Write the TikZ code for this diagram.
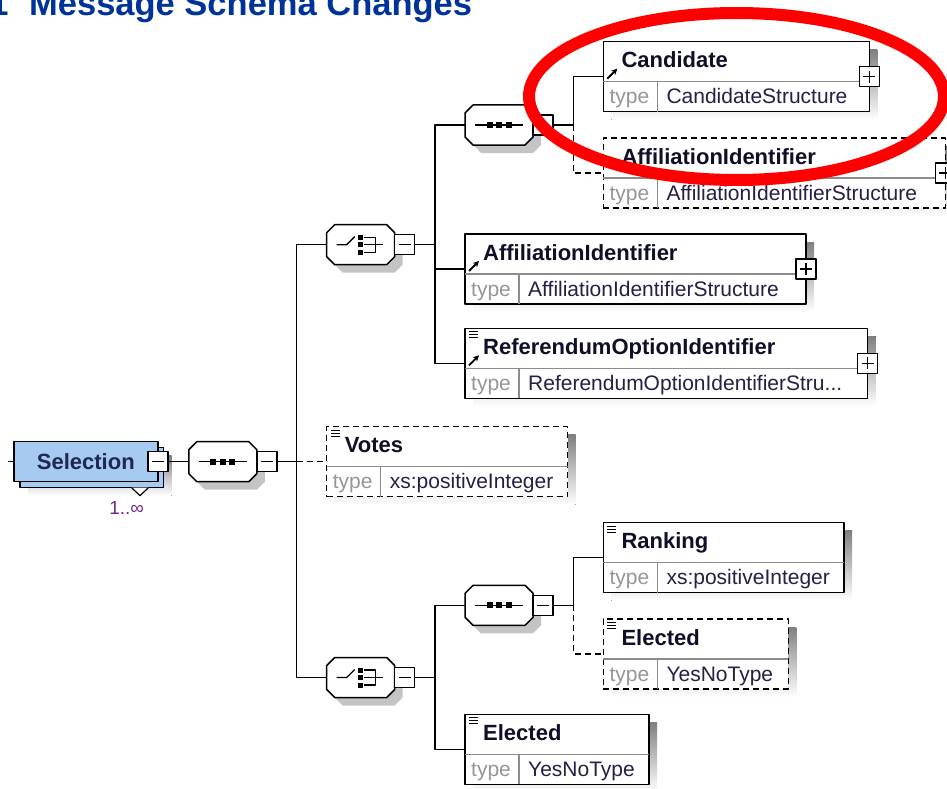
\documentclass[tikz,border=0pt]{standalone}
\usepackage{fontspec}
\setmainfont{Liberation Sans}
\usetikzlibrary{arrows.meta}
\definecolor{titleblue}{RGB}{0,51,153}
\definecolor{selblue}{RGB}{166,202,240}
\definecolor{shade}{RGB}{196,196,196}
\definecolor{typegray}{RGB}{150,150,150}
\definecolor{valink}{RGB}{40,30,70}
\definecolor{nameink}{RGB}{15,15,40}
\definecolor{occink}{RGB}{110,40,140}
\definecolor{markred}{RGB}{255,0,0}

% octagon of a compositor: style, centre x, centre y
\newcommand\octagon[3]{%
  \path[#1] (#2-34,#3-12) -- (#2-26,#3-20) -- (#2+26,#3-20) -- (#2+34,#3-12)
    -- (#2+34,#3+12) -- (#2+26,#3+20) -- (#2-26,#3+20) -- (#2-34,#3+12) -- cycle;}
% sequence: name, centre x, centre y
\newcommand\schemaseq[3]{%
  \octagon{fill=shade}{#2+8}{#3+8}
  \octagon{draw,fill=white,line width=1.5pt}{#2}{#3}
  \node[compo] (#1) at (#2,#3) {};
  \draw[line width=1.3pt] (#2-24,#3) -- (#2+24,#3);
  \foreach \dx in {-9.5,0,9.5} \fill (#2+\dx-3,#3-3) rectangle ++(6,6);
  \node[minusbox] (#1-m) at (#2+44,#3) {};}
% choice: name, centre x, centre y
\newcommand\schemachoice[3]{%
  \octagon{fill=shade}{#2+8}{#3+8}
  \octagon{draw,fill=white,line width=1.5pt}{#2}{#3}
  \node[compo] (#1) at (#2,#3) {};
  \draw[line width=1.3pt] (#2-24,#3) -- (#2-14,#3) -- (#2-6,#3-8);
  \foreach \dy in {-7.5,0,7.5} \fill (#2-2.5,#3+\dy-2.5) rectangle ++(5,5);
  \draw[line width=1.3pt] (#2+3,#3-7.5) -- (#2+15,#3-7.5) -- (#2+15,#3+7.5) -- (#2+3,#3+7.5)
    (#2+3,#3) -- (#2+22,#3);
  \node[minusbox] (#1-m) at (#2+44,#3) {};}
% element: name, west x, y, width, label, type, line style
\newcommand\schemael[7]{%
  \fill[shade] (#2+8,#3-27) rectangle ++(#4,70);
  \node[elbox,#7,minimum width=#4pt] (#1) at (#2,#3) {};
  \draw[divline] (#2,#3+5) -- ++(#4,0) (#2+54,#3+5) -- ++(0,30);
  \node[elname] (#1-name) at (#2+18,#3-9) {#5};
  \node[eltype] (#1-tlabel) at (#2+6,#3+27) {type};
  \node[elvalue] (#1-type) at (#2+63,#3+27) {#6};}
\newcommand\docmark[1]{%
  \foreach \dy in {-31.5,-28.5,-25.5} \draw[line width=1pt] ([shift={(4,\dy)}]#1.west) -- ++(9,0);}
\newcommand\refmark[1]{\draw[->,line width=1.8pt] ([shift={(4,2)}]#1.west) -- ++(10,-10);}

\begin{document}
\begin{tikzpicture}[x=1pt,y=-1pt,>={Stealth[length=6pt,width=6pt]},line join=round,
  conn/.style={line width=1.5pt},
  opt/.style={dash pattern=on 6pt off 4pt},
  compo/.style={minimum width=68pt,minimum height=40pt,inner sep=0pt,outer sep=0pt},
  pmbox/.style={draw,fill=white,line width=1.4pt,minimum size=20pt,inner sep=0pt,outer sep=0pt},
  minusbox/.style={pmbox,
    path picture={\draw[line width=1.2pt] ([xshift=-6pt]path picture bounding box.center)
      -- ([xshift=6pt]path picture bounding box.center);}},
  plusbox/.style={pmbox,
    path picture={\draw[line width=1.2pt] ([xshift=-6pt]path picture bounding box.center)
      -- ([xshift=6pt]path picture bounding box.center)
      ([yshift=-6pt]path picture bounding box.center)
      -- ([yshift=6pt]path picture bounding box.center);}},
  elbox/.style={draw,fill=white,line width=1.5pt,minimum height=70pt,inner sep=0pt,outer sep=0pt,anchor=west},
  divline/.style={draw=black!45,line width=1.2pt},
  elname/.style={anchor=base west,inner sep=0pt,font={\fontsize{22}{26}\selectfont\bfseries},text=nameink},
  eltype/.style={anchor=base west,inner sep=0pt,font={\fontsize{21}{25}\selectfont},text=typegray},
  elvalue/.style={anchor=base west,inner sep=0pt,font={\fontsize{21}{25}\selectfont},text=valink},
  selbox/.style={draw,fill=selblue,line width=1.4pt,minimum width=144pt,minimum height=40pt,inner sep=0pt,
    outer sep=0pt,font={\fontsize{22}{26}\selectfont\bfseries},text={rgb,255:red,30;green,40;blue,80}}]
\useasboundingbox (0,0) rectangle (947,789);

\node[anchor=base west,inner sep=0pt,font={\fontsize{34.5}{40}\selectfont\bfseries},text=titleblue] (title) at (29,15.7) {Message Schema Changes};
\node[anchor=base east,inner sep=0pt,font={\fontsize{34.5}{40}\selectfont\bfseries},text=titleblue] (titlenum) at (8.7,15.7) {1};

% root element
\fill[shade] (28,455.7) rectangle (171.7,495.7);
\draw[fill=selblue,line width=1.4pt] (20,447.7) rectangle (163.7,487.7);
\node[selbox] (sel) at (85.8,461.7) {Selection};
\draw[fill=white,line width=1.2pt] (131.7,487.7) -- (140,495.7) -- (148.3,487.7);
\node[minusbox] (sel-m) at (sel.east) {};
\node[anchor=base,inner sep=0pt,font={\fontsize{19}{22}\selectfont},text=occink] (sel-occ) at (126.7,514.5) {1..∞};
\coordinate (in) at (8,461.7);

\schemaseq{seq0}{222.8}{461.7}
\schemachoice{ch1}{360.7}{244.7}
\schemachoice{ch2}{360.7}{677.5}
\schemaseq{seqA}{499}{125}
\schemaseq{seqB}{499}{605.3}

\schemael{cand}{603.3}{76.7}{266}{Candidate}{CandidateStructure}{}
\schemael{affopt}{603.3}{173}{342}{AffiliationIdentifier}{AffiliationIdentifierStructure}{opt}
\schemael{affid}{465}{269}{341}{AffiliationIdentifier}{AffiliationIdentifierStructure}{}
\schemael{refopt}{465}{363.3}{402.7}{ReferendumOptionIdentifier}{ReferendumOptionIdentifierStru...}{}
\schemael{votes}{326.7}{461.7}{241}{Votes}{xs:positiveInteger}{opt}
\schemael{rank}{603.3}{557.7}{240.7}{Ranking}{xs:positiveInteger}{}
\schemael{electopt}{603.3}{654}{185}{Elected}{YesNoType}{opt}
\schemael{elect}{465}{749.3}{184}{Elected}{YesNoType}{}

\node[plusbox] (cand-p) at (cand.east) {};
\node[plusbox] (affopt-p) at (affopt.east) {};
\node[plusbox] (affid-p) at (affid.east) {};
\node[plusbox] (refopt-p) at (refopt.east) {};
\refmark{cand}
\refmark{affid}
\docmark{refopt}
\refmark{refopt}
\docmark{votes}
\docmark{rank}
\docmark{electopt}
\docmark{elect}

% connectors
\coordinate (bus0) at (296.7,461.7);
\coordinate (bus1) at (435,244.7);
\coordinate (bus2) at (435,677.5);
\coordinate (busA) at (573.3,125);
\coordinate (busB) at (573.3,605.3);
\draw[conn] (in) -- (sel.west);
\draw[conn] (sel-m.east) -- (seq0.west);
\draw[conn] (seq0-m.east) -- (bus0);
\draw[conn] (ch1.west) -| (bus0) |- (ch2.west);
\draw[conn,opt] (bus0) -- (votes.west);
\draw[conn] (ch1-m.east) -- (bus1);
\draw[conn] (seqA.west) -| (bus1) |- (refopt.west);
\draw[conn] (affid.west) -- (affid.west -| bus1);
\draw[conn] (seqA-m.east) -- (busA) |- (cand.west);
\draw[conn,opt] (busA) |- (affopt.west);
\draw[conn] (ch2-m.east) -- (bus2);
\draw[conn] (seqB.west) -| (bus2) |- (elect.west);
\draw[conn] (seqB-m.east) -- (busB) |- (rank.west);
\draw[conn,opt] (busB) |- (electopt.west);

\draw[markred,line width=12pt] (736.5,96.5) ellipse [x radius=207.5pt,y radius=83.5pt];
\end{tikzpicture}
\end{document}
